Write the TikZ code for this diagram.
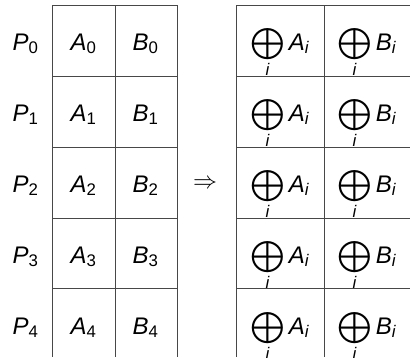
\documentclass[tikz,border=0pt]{standalone}
\usepackage{amsmath}
\usepackage{graphicx}
\usepackage{fontspec}
\setmainfont{Liberation Sans}
\newcommand\mi[1]{\text{\itshape #1}}
\newcommand\bigop{\mathop{\vcenter{\hbox{\scalebox{1.3}{$\bigoplus$}}}}}
\newcommand\xsum[1]{\bigop\limits_{\mi{i}}\mi{#1}_{\mi{i}}}
\begin{document}
\begin{tikzpicture}[x=1pt,y=-1pt,
  grid/.style={draw=black!72,line width=0.9pt},
  lbl/.style={anchor=base,inner sep=0pt,scale=2.4}]
\useasboundingbox (0,0) rectangle (410,357);
% left table
\foreach \x in {52,115,177} \draw[grid] (\x,5) -- (\x,357);
\foreach \y in {5,76,147,218,288} \draw[grid] (52,\y) -- (177,\y);
% right table
\foreach \x in {236,324} \draw[grid] (\x,5) -- (\x,357);
\foreach \y in {5,76,147,218,288} \draw[grid] (236,\y) -- (411,\y);
\foreach \k in {0,...,4} {
  \pgfmathsetmacro\yb{50+71*\k}
  \node[lbl] (p\k) at (26,\yb) {$\mi{P}_{\text{\k}}$};
  \node[lbl] (a\k) at (84,\yb) {$\mi{A}_{\text{\k}}$};
  \node[lbl] (b\k) at (146,\yb) {$\mi{B}_{\text{\k}}$};
  \node[lbl] (sa\k) at (280,\yb) {$\xsum{A}$};
  \node[lbl] (sb\k) at (367,\yb) {$\xsum{B}$};
}
\node[inner sep=0pt,scale=2.4] (arr) at (205,184) {$\Rightarrow$};
\end{tikzpicture}
\end{document}
